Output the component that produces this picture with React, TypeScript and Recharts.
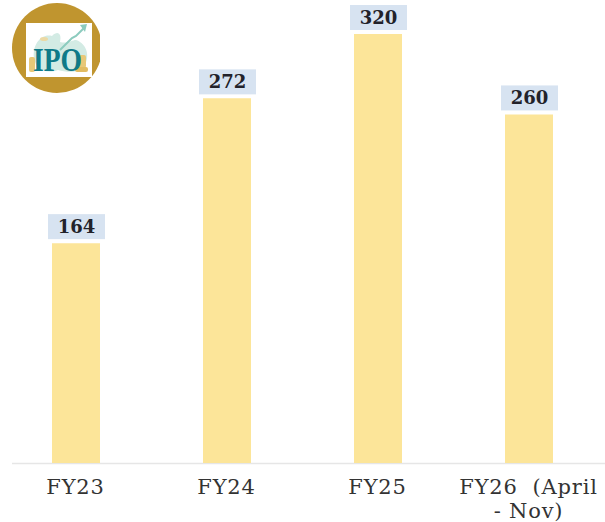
import { BarChart, Bar, XAxis, YAxis, LabelList } from 'recharts';

const CATEGORIES = ['FY23', 'FY24', 'FY25', 'FY26  (April\n- Nov)'];
const VALUES = [164, 272, 320, 260];

const FONT = '"DejaVu Serif", serif';

const data = CATEGORIES.map((name, i) => ({ name, value: VALUES[i] }));

const ValueTag = ({ x, y, width, value }: any) => {
  const cx = x + width / 2 + 0.5;
  return (
    <g>
      <rect x={cx - 28.5} y={y - 29} width={57} height={25} fill="#D7E3F1" />
      <text
        x={cx}
        y={y - 10}
        textAnchor="middle"
        fontFamily={FONT}
        fontSize={18}
        fontWeight={700}
        fill="#22222A"
      >
        {value}
      </text>
    </g>
  );
};

const CategoryTick = ({ x, y, payload }: any) => {
  const lines = String(payload.value).split('\n');
  return (
    <text
      textAnchor="middle"
      fontFamily={FONT}
      fontSize={21}
      letterSpacing={0.8}
      fill="#333333"
      style={{ whiteSpace: 'pre' }}
    >
      {lines.map((line: string, i: number) => (
        <tspan key={i} x={x} y={y + 23 + i * 24}>
          {line}
        </tspan>
      ))}
    </text>
  );
};

const Logo = () => (
  <svg width={100} height={100} style={{ position: 'absolute', left: 0, top: 0 }}>
    <circle cx={57} cy={48} r={45} fill="#C0952F" />
    <rect x={26} y={23} width={66} height={54} fill="#FFFFFF" />
    <path
      d="M34 58 C32 44 42 33 52 36 C58 30 62 34 60 42 C68 44 72 40 76 40 C88 44 90 58 84 66 C78 74 66 72 58 70 C46 74 36 70 34 58 Z"
      fill="#D3EBE4"
    />
    <path d="M60 50 L72 38 L76 36 L84 28" stroke="#8CCBBE" strokeWidth={2} fill="none" />
    <path d="M80 25 L87 24 L85 32 Z" fill="#8CCBBE" />
    <ellipse cx={44} cy={39} rx={4} ry={2} fill="#EBD9A4" />
    <rect x={29} y={57} width={6} height={15} rx={2} fill="#E8C878" />
    <rect x={79} y={55} width={7} height={13} rx={2} fill="#E8C878" />
    <rect x={75} y={67} width={13} height={5} rx={2} fill="#E2BC62" />
    <text
      x={33}
      y={71}
      fontFamily='"Liberation Serif", serif'
      fontSize={34}
      fontWeight={700}
      fill="#0F7A88"
      textLength={49}
      lengthAdjust="spacingAndGlyphs"
    >
      IPO
    </text>
  </svg>
);

export default function App() {
  return (
    <div style={{ position: 'absolute', left: 0, top: 0, width: 605, height: 522, background: '#FFFFFF' }}>
      <BarChart
        width={605}
        height={522}
        data={data}
        margin={{ top: 34, right: 1, bottom: 0, left: 0 }}
      >
        <YAxis hide domain={[0, 320]} />
        <XAxis
          dataKey="name"
          height={59}
          axisLine={false}
          tickLine={false}
          interval={0}
          tick={<CategoryTick />}
        />
        <Bar dataKey="value" fill="#FCE599" barSize={48} isAnimationActive={false}>
          <LabelList dataKey="value" content={<ValueTag />} />
        </Bar>
        <line x1={12} y1={463.5} x2={605} y2={463.5} stroke="#E6E6E6" strokeWidth={1.5} />
      </BarChart>
      <Logo />
    </div>
  );
}
